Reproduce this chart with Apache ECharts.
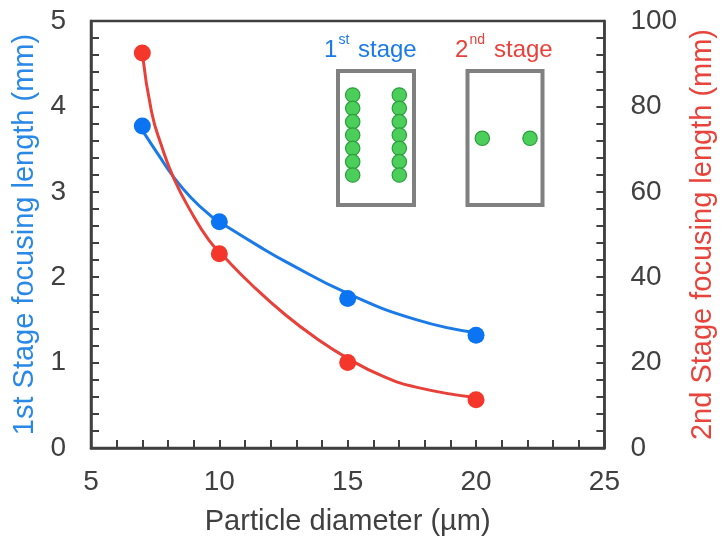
<!DOCTYPE html>
<html>
<head>
<meta charset="utf-8">
<script src="https://cdn.jsdelivr.net/npm/echarts@6/dist/echarts.min.js"></script>
<style>
  html, body { margin: 0; padding: 0; background: #fff; }
  #main { width: 725px; height: 544px; }
</style>
</head>
<body>
<div id="main"></div>
<script>
var app = echarts.init(document.getElementById('main'));

// measured points
var diameters = [7, 10, 15, 20];
var stage1 = [3.77, 2.65, 1.75, 1.32];   // mm, left axis
var stage2 = [92.5, 45.5, 20.0, 11.3];   // mm, right axis

// fitted trend lines
var fit1 = [[7.0, 3.72], [7.7, 3.40], [8.2, 3.18], [8.9, 2.93], [9.7, 2.71],
            [10.1, 2.63], [11.5, 2.37], [12.6, 2.18], [15.0, 1.81], [17.7, 1.50], [20.0, 1.35]];
var fit2 = [[7.0, 92.4], [7.36, 78.7], [7.74, 70.9], [8.23, 63.1], [8.9, 55.3],
            [9.6, 48.6], [10.1, 45.3], [11.3, 38.0], [12.57, 31.2], [13.8, 25.6], [15.0, 21.0],
            [16.3, 17.0], [17.7, 14.2], [20.0, 11.8]];

var font = 'Liberation Sans, Arial, sans-serif';
var ink = '#404040';
var blue = '#1a7be8';
var red = '#e8413a';

function zip(xs, ys) {
  return xs.map(function (x, i) { return [x, ys[i]]; });
}

// inset sketch (decoration): two boxes with particles
var inset = [];
function box(x, y, w, h) {
  inset.push({type: 'rect', shape: {x: x, y: y, width: w, height: h},
    style: {fill: '#fff', stroke: '#808080', lineWidth: 4}, z: 10});
}
function dot(cx, cy) {
  inset.push({type: 'circle', shape: {cx: cx, cy: cy, r: 7.2},
    style: {fill: '#4ccf5a', stroke: '#2a9e3c', lineWidth: 1.2}, z: 11});
}
function txt(x, y, s, size, color) {
  inset.push({type: 'text', x: x, y: y,
    style: {text: s, fill: color, font: size + 'px ' + font, textVerticalAlign: 'middle'}, z: 11});
}
box(338, 71, 76, 134);
box(467.5, 71, 75, 134);
for (var i = 0; i < 7; i++) {
  dot(352.7, 95 + i * 13.33);
  dot(399.3, 95 + i * 13.33);
}
dot(482.3, 138.3);
dot(530, 138.3);
txt(324, 50, '1', 24, blue);
txt(338.5, 40, 'st', 14, blue);
txt(358, 50, 'stage', 24, blue);
txt(455, 50, '2', 24, red);
txt(469.5, 40, 'nd', 14, red);
txt(494, 50, 'stage', 24, red);

var axisLine = {lineStyle: {color: ink, width: 2.5}};
var tick = {inside: true, length: 8, lineStyle: {color: ink, width: 2}};
var minor = {show: true, splitNumber: 5, length: 8, lineStyle: {color: ink, width: 2}};

option = {
  animation: false,
  grid: {left: 91, right: 116, top: 21, bottom: 96, show: true,
    borderColor: ink, borderWidth: 2.5, containLabel: false},
  xAxis: {
    type: 'value', min: 5, max: 25, interval: 5,
    name: 'Particle diameter (µm)', nameLocation: 'middle', nameGap: 59,
    nameTextStyle: {fontSize: 29, color: ink, fontFamily: font},
    axisLine: axisLine, axisTick: tick, minorTick: minor,
    splitLine: {show: false},
    axisLabel: {fontSize: 28, color: ink, fontFamily: font, margin: 20}
  },
  yAxis: [{
    type: 'value', min: 0, max: 5, interval: 1, position: 'left',
    name: '1st Stage focusing length (mm)', nameLocation: 'middle', nameGap: 46,
    nameTextStyle: {fontSize: 29, color: '#2a88e6', fontFamily: font},
    axisLine: axisLine, axisTick: tick, minorTick: minor,
    splitLine: {show: false},
    axisLabel: {fontSize: 28, color: ink, fontFamily: font, margin: 25}
  }, {
    type: 'value', min: 0, max: 100, interval: 20, position: 'right',
    name: '2nd Stage focusing length (mm)', nameLocation: 'middle', nameGap: 83,
    nameTextStyle: {fontSize: 29, color: '#e8443c', fontFamily: font},
    axisLine: axisLine, axisTick: tick, minorTick: minor,
    splitLine: {show: false},
    axisLabel: {fontSize: 28, color: ink, fontFamily: font, margin: 26}
  }],
  graphic: inset,
  series: [{
    name: 'fit 1st', type: 'line', yAxisIndex: 0, data: fit1,
    smooth: 0.5, showSymbol: false,
    lineStyle: {color: blue, width: 3}, z: 2
  }, {
    name: 'fit 2nd', type: 'line', yAxisIndex: 1, data: fit2,
    smooth: 0.5, showSymbol: false,
    lineStyle: {color: red, width: 3}, z: 2
  }, {
    name: '1st stage', type: 'scatter', yAxisIndex: 0, data: zip(diameters, stage1),
    symbolSize: 17, itemStyle: {color: '#0a74f2', opacity: 1}, z: 3
  }, {
    name: '2nd stage', type: 'scatter', yAxisIndex: 1, data: zip(diameters, stage2),
    symbolSize: 17, itemStyle: {color: '#f4362b', opacity: 1}, z: 3
  }]
};

app.setOption(option);
</script>
</body>
</html>
